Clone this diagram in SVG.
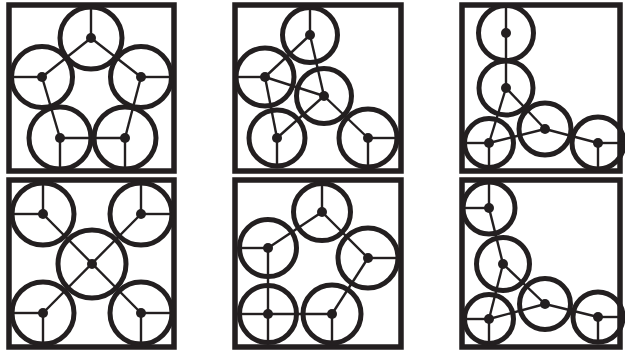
<svg xmlns="http://www.w3.org/2000/svg" width="625" height="350" viewBox="0 0 625 350">
<style>
.box{fill:none;stroke:#231f20;stroke-width:5.5}
.c{fill:none;stroke:#231f20;stroke-width:5}
.l{stroke:#231f20;stroke-width:2.4;stroke-linecap:butt}
.d{fill:#231f20}
</style>
<rect width="625" height="350" fill="#fff"/>
<!-- Panel 1 -->
<g id="panel1">
<rect class="box" x="9" y="5" width="165" height="166"/>
<g id="p1-connectors">
<line class="l" x1="91" y1="38" x2="42" y2="77"/>
<line class="l" x1="91" y1="38" x2="141" y2="77"/>
<line class="l" x1="42" y1="77" x2="60" y2="138"/>
<line class="l" x1="141" y1="77" x2="125" y2="138"/>
<line class="l" x1="60" y1="138" x2="125" y2="138"/>
</g>
<g id="p1-n1"><circle class="c" cx="91" cy="38" r="31"/><line class="l" x1="91" y1="38" x2="91" y2="7"/><circle class="d" cx="91" cy="38" r="5"/></g>
<g id="p1-n2"><circle class="c" cx="42" cy="77" r="30.5"/><line class="l" x1="42" y1="77" x2="12" y2="77"/><circle class="d" cx="42" cy="77" r="5"/></g>
<g id="p1-n3"><circle class="c" cx="141" cy="77" r="30.5"/><line class="l" x1="141" y1="77" x2="171" y2="77"/><circle class="d" cx="141" cy="77" r="5"/></g>
<g id="p1-n4"><circle class="c" cx="60" cy="138" r="31"/><line class="l" x1="60" y1="138" x2="60" y2="169"/><circle class="d" cx="60" cy="138" r="5"/></g>
<g id="p1-n5"><circle class="c" cx="125" cy="138" r="31"/><line class="l" x1="125" y1="138" x2="125" y2="169"/><circle class="d" cx="125" cy="138" r="5"/></g>
</g>
<!-- Panel 2 -->
<g id="panel2">
<rect class="box" x="235" y="5" width="166" height="166"/>
<g id="p2-connectors">
<line class="l" x1="310" y1="35" x2="265" y2="77"/>
<line class="l" x1="310" y1="35" x2="324" y2="96"/>
<line class="l" x1="265" y1="77" x2="324" y2="96"/>
<line class="l" x1="265" y1="77" x2="277" y2="138"/>
<line class="l" x1="324" y1="96" x2="277" y2="138"/>
<line class="l" x1="324" y1="96" x2="368" y2="138"/>
</g>
<g id="p2-n1"><circle class="c" cx="310" cy="35" r="27.5"/><line class="l" x1="310" y1="35" x2="310" y2="8"/><circle class="d" cx="310" cy="35" r="5"/></g>
<g id="p2-n2"><circle class="c" cx="265" cy="77" r="29"/><line class="l" x1="265" y1="77" x2="236" y2="77"/><circle class="d" cx="265" cy="77" r="5"/></g>
<g id="p2-n3"><circle class="c" cx="324" cy="96" r="27.5"/><circle class="d" cx="324" cy="96" r="5"/></g>
<g id="p2-n4"><circle class="c" cx="277" cy="138" r="28"/><line class="l" x1="277" y1="138" x2="277" y2="166"/><circle class="d" cx="277" cy="138" r="5"/></g>
<g id="p2-n5"><circle class="c" cx="368" cy="138" r="29"/><line class="l" x1="368" y1="138" x2="397" y2="138"/><line class="l" x1="368" y1="138" x2="368" y2="167"/><circle class="d" cx="368" cy="138" r="5"/></g>
</g>
<!-- Panel 3 -->
<g id="panel3">
<rect class="box" x="462" y="5" width="158" height="166"/>
<g id="p3-connectors">
<line class="l" x1="506" y1="33" x2="506" y2="88"/>
<line class="l" x1="506" y1="88" x2="489" y2="143"/>
<line class="l" x1="506" y1="88" x2="545" y2="129"/>
<line class="l" x1="489" y1="143" x2="545" y2="129"/>
<line class="l" x1="545" y1="129" x2="598" y2="143"/>
</g>
<g id="p3-n1"><circle class="c" cx="506" cy="33" r="27.5"/><line class="l" x1="506" y1="33" x2="506" y2="5.5"/><circle class="d" cx="506" cy="33" r="5"/></g>
<g id="p3-n2"><circle class="c" cx="506" cy="88" r="27"/><circle class="d" cx="506" cy="88" r="5"/></g>
<g id="p3-n3"><circle class="c" cx="489" cy="143" r="24.5"/><line class="l" x1="489" y1="143" x2="464.5" y2="143"/><line class="l" x1="489" y1="143" x2="489" y2="167.5"/><circle class="d" cx="489" cy="143" r="5"/></g>
<g id="p3-n4"><circle class="c" cx="545" cy="129" r="26"/><circle class="d" cx="545" cy="129" r="5"/></g>
<g id="p3-n5"><circle class="c" cx="598" cy="143" r="26"/><line class="l" x1="598" y1="143" x2="624" y2="143"/><line class="l" x1="598" y1="143" x2="598" y2="169"/><circle class="d" cx="598" cy="143" r="5"/></g>
</g>
<!-- Panel 4 -->
<g id="panel4">
<rect class="box" x="9" y="180" width="165" height="167"/>
<g id="p4-connectors">
<line class="l" x1="43" y1="214" x2="141" y2="313"/>
<line class="l" x1="141" y1="214" x2="43" y2="313"/>
</g>
<g id="p4-n1"><circle class="c" cx="43" cy="214" r="31"/><line class="l" x1="43" y1="214" x2="43" y2="183"/><line class="l" x1="43" y1="214" x2="12" y2="214"/><circle class="d" cx="43" cy="214" r="5"/></g>
<g id="p4-n2"><circle class="c" cx="141" cy="214" r="31"/><line class="l" x1="141" y1="214" x2="141" y2="183"/><line class="l" x1="141" y1="214" x2="172" y2="214"/><circle class="d" cx="141" cy="214" r="5"/></g>
<g id="p4-n3"><circle class="c" cx="92" cy="264" r="34"/><circle class="d" cx="92" cy="264" r="5"/></g>
<g id="p4-n4"><circle class="c" cx="43" cy="313" r="31"/><line class="l" x1="43" y1="313" x2="12" y2="313"/><line class="l" x1="43" y1="313" x2="43" y2="344"/><circle class="d" cx="43" cy="313" r="5"/></g>
<g id="p4-n5"><circle class="c" cx="141" cy="313" r="31"/><line class="l" x1="141" y1="313" x2="172" y2="313"/><line class="l" x1="141" y1="313" x2="141" y2="344"/><circle class="d" cx="141" cy="313" r="5"/></g>
</g>
<!-- Panel 5 -->
<g id="panel5">
<rect class="box" x="235" y="180" width="166" height="167"/>
<g id="p5-connectors">
<line class="l" x1="322" y1="212" x2="268" y2="248"/>
<line class="l" x1="322" y1="212" x2="368" y2="258"/>
<line class="l" x1="268" y1="248" x2="268" y2="314"/>
<line class="l" x1="268" y1="314" x2="332" y2="314"/>
<line class="l" x1="332" y1="314" x2="368" y2="258"/>
</g>
<g id="p5-n1"><circle class="c" cx="322" cy="212" r="28.5"/><line class="l" x1="322" y1="212" x2="322" y2="184"/><circle class="d" cx="322" cy="212" r="5"/></g>
<g id="p5-n2"><circle class="c" cx="268" cy="248" r="28.5"/><line class="l" x1="268" y1="248" x2="240" y2="248"/><circle class="d" cx="268" cy="248" r="5"/></g>
<g id="p5-n3"><circle class="c" cx="368" cy="258" r="30"/><line class="l" x1="368" y1="258" x2="398" y2="258"/><circle class="d" cx="368" cy="258" r="5"/></g>
<g id="p5-n4"><circle class="c" cx="268" cy="314" r="28.5"/><line class="l" x1="268" y1="314" x2="240" y2="314"/><line class="l" x1="268" y1="314" x2="268" y2="342"/><circle class="d" cx="268" cy="314" r="5"/></g>
<g id="p5-n5"><circle class="c" cx="332" cy="314" r="29"/><line class="l" x1="332" y1="314" x2="332" y2="343"/><circle class="d" cx="332" cy="314" r="5"/></g>
</g>
<!-- Panel 6 -->
<g id="panel6">
<rect class="box" x="462" y="180" width="158" height="167"/>
<g id="p6-connectors">
<line class="l" x1="489" y1="208" x2="503" y2="264"/>
<line class="l" x1="503" y1="264" x2="489" y2="319"/>
<line class="l" x1="503" y1="264" x2="545" y2="304"/>
<line class="l" x1="489" y1="319" x2="545" y2="304"/>
<line class="l" x1="545" y1="304" x2="598" y2="317"/>
</g>
<g id="p6-n1"><circle class="c" cx="489" cy="208" r="26"/><line class="l" x1="489" y1="208" x2="489" y2="182"/><line class="l" x1="489" y1="208" x2="463" y2="208"/><circle class="d" cx="489" cy="208" r="5"/></g>
<g id="p6-n2"><circle class="c" cx="503" cy="264" r="26.5"/><circle class="d" cx="503" cy="264" r="5"/></g>
<g id="p6-n3"><circle class="c" cx="489" cy="319" r="24.5"/><line class="l" x1="489" y1="319" x2="464.5" y2="319"/><line class="l" x1="489" y1="319" x2="489" y2="343.5"/><circle class="d" cx="489" cy="319" r="5"/></g>
<g id="p6-n4"><circle class="c" cx="545" cy="304" r="25.5"/><circle class="d" cx="545" cy="304" r="5"/></g>
<g id="p6-n5"><circle class="c" cx="598" cy="317" r="25"/><line class="l" x1="598" y1="317" x2="623" y2="317"/><line class="l" x1="598" y1="317" x2="598" y2="342"/><circle class="d" cx="598" cy="317" r="5"/></g>
</g>
</svg>
